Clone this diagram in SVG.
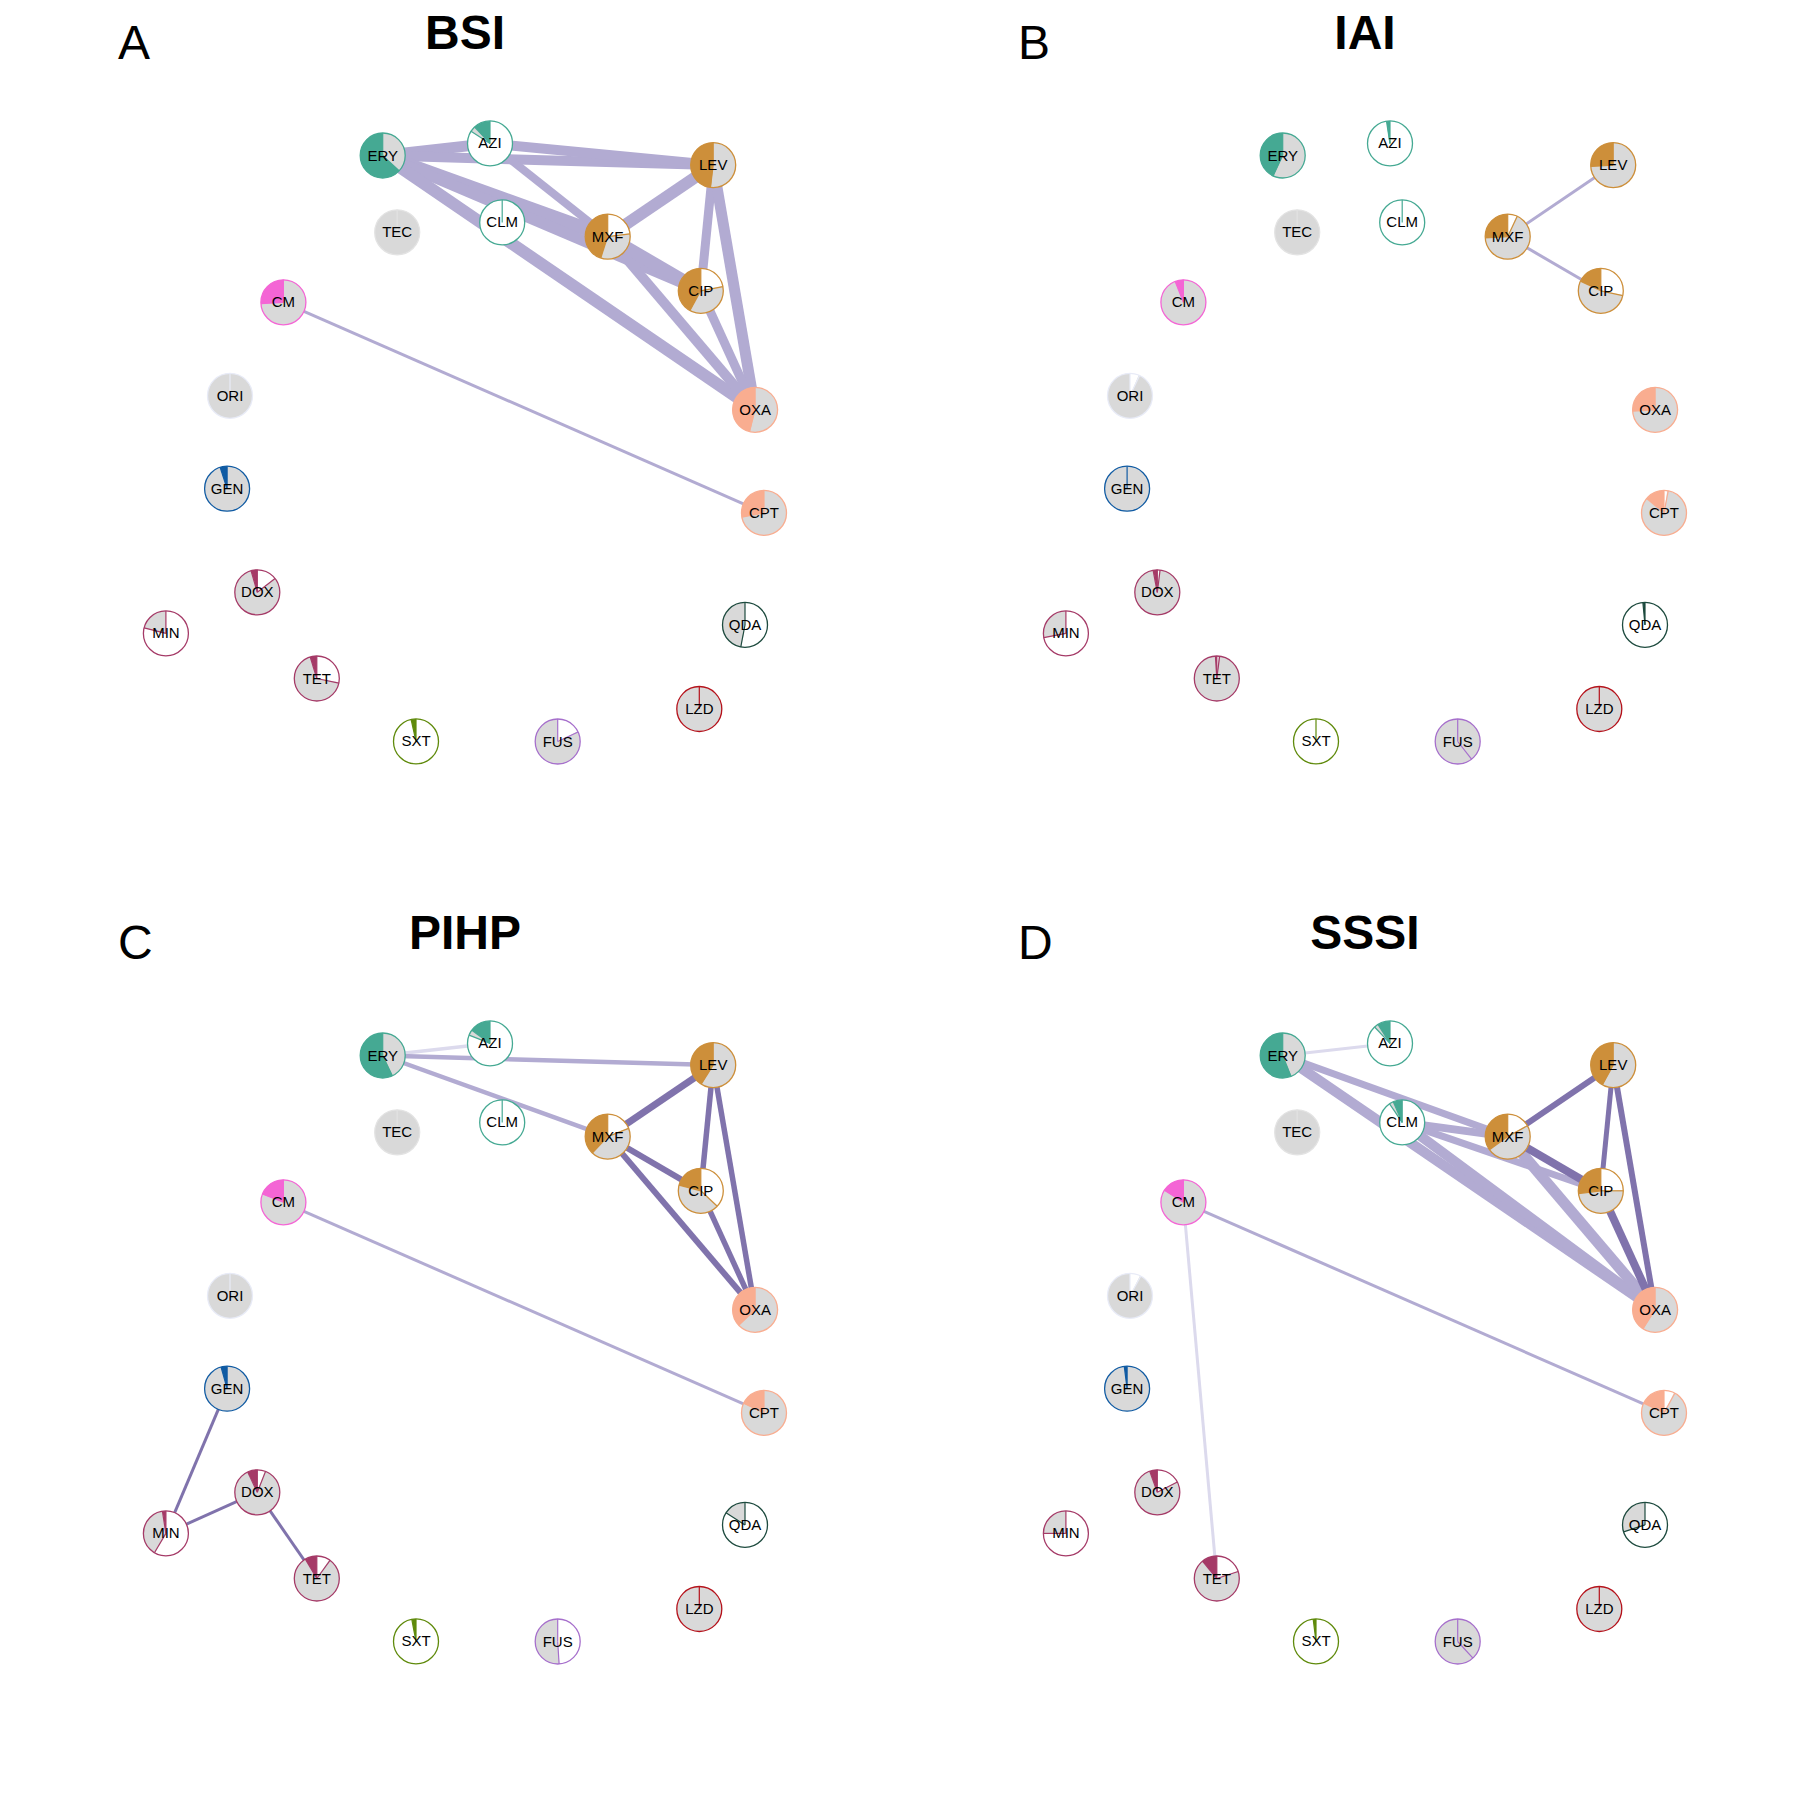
<svg xmlns="http://www.w3.org/2000/svg" width="1800" height="1800" viewBox="0 0 1800 1800">
<style>
.ttl{font-family:"Liberation Sans",Arial,sans-serif;font-size:48px;font-weight:bold;text-anchor:middle;fill:#000}
.lbl{font-family:"Liberation Sans",Arial,sans-serif;font-size:48px;fill:#000}
.n text{font-family:"Liberation Sans",Arial,sans-serif;font-size:15px;text-anchor:middle;fill:#000}
.bg{fill:#d9d9d9}.bw{fill:#fff}
.s{fill:none;stroke-width:22.5}
.gy{stroke:#d9d9d9}
.fr{fill:none;stroke-width:1.3}
.rl{fill:none;stroke-width:1.2}
.teal .cw,.teal .fr,.teal .rl{stroke:#45a993}
.orng .cw,.orng .fr,.orng .rl{stroke:#cd8f3a}
.pink .cw,.pink .fr,.pink .rl{stroke:#f465d5}
.salm .cw,.salm .fr,.salm .rl{stroke:#f9ad90}
.blue .cw,.blue .fr,.blue .rl{stroke:#105ba3}
.berry .cw,.berry .fr,.berry .rl{stroke:#a53a67}
.olive .cw,.olive .fr,.olive .rl{stroke:#5f8a0b}
.viol .cw,.viol .fr,.viol .rl{stroke:#a66fcc}
.dkgr .cw,.dkgr .fr,.dkgr .rl{stroke:#1d4a3e}
.red .cw,.red .fr,.red .rl{stroke:#b5121b}
.tec .fr,.tec .rl{stroke:#e3e3e3}
.ori .fr,.ori .rl{stroke:#e8ebf7}
.e line{fill:none;stroke-linecap:butt}
.lv{stroke:#b2abd2}.dk{stroke:#8073ac}.vl{stroke:#dcdaed}
</style>
<rect width="1800" height="1800" fill="#fff"/>

<g id="titles">
<text class="lbl" x="118" y="59">A</text>
<text class="ttl" x="465" y="49">BSI</text>
<text class="lbl" x="1018" y="59">B</text>
<text class="ttl" x="1365" y="49">IAI</text>
<text class="lbl" x="118" y="959">C</text>
<text class="ttl" x="465" y="949">PIHP</text>
<text class="lbl" x="1018" y="959">D</text>
<text class="ttl" x="1365" y="949">SSSI</text>
</g>

<g id="connectors" class="e">
<g id="edges-A">
<line class="lv" stroke-width="11" x1="382.7" y1="155.5" x2="490" y2="143.4"/>
<line class="lv" stroke-width="10" x1="382.7" y1="155.5" x2="713.2" y2="165.1"/>
<line class="lv" stroke-width="10" x1="490" y1="143.4" x2="713.2" y2="165.1"/>
<line class="lv" stroke-width="8" x1="490" y1="143.4" x2="607.7" y2="236.6"/>
<line class="lv" stroke-width="14" x1="382.7" y1="155.5" x2="607.7" y2="236.6"/>
<line class="lv" stroke-width="11" x1="382.7" y1="155.5" x2="700.8" y2="290.8"/>
<line class="lv" stroke-width="12" x1="382.7" y1="155.5" x2="755.1" y2="409.8"/>
<line class="lv" stroke-width="12" x1="607.7" y1="236.6" x2="713.2" y2="165.1"/>
<line class="lv" stroke-width="13" x1="607.7" y1="236.6" x2="700.8" y2="290.8"/>
<line class="lv" stroke-width="10" x1="607.7" y1="236.6" x2="755.1" y2="409.8"/>
<line class="lv" stroke-width="9" x1="713.2" y1="165.1" x2="700.8" y2="290.8"/>
<line class="lv" stroke-width="11" x1="713.2" y1="165.1" x2="755.1" y2="409.8"/>
<line class="lv" stroke-width="9" x1="700.8" y1="290.8" x2="755.1" y2="409.8"/>
<line class="lv" stroke-width="3" x1="283.4" y1="302.3" x2="764" y2="512.9"/>
</g>
<g id="edges-B" transform="translate(900 0)">
<line class="lv" stroke-width="3" x1="607.7" y1="236.6" x2="713.2" y2="165.1"/>
<line class="lv" stroke-width="3" x1="607.7" y1="236.6" x2="700.8" y2="290.8"/>
</g>
<g id="edges-C" transform="translate(0 900)">
<line class="vl" stroke-width="3.5" x1="382.7" y1="155.5" x2="490" y2="143.4"/>
<line class="lv" stroke-width="4.5" x1="382.7" y1="155.5" x2="713.2" y2="165.1"/>
<line class="lv" stroke-width="4.5" x1="382.7" y1="155.5" x2="607.7" y2="236.6"/>
<line class="lv" stroke-width="3" x1="283.4" y1="302.3" x2="764" y2="512.9"/>
<line class="dk" stroke-width="7" x1="607.7" y1="236.6" x2="713.2" y2="165.1"/>
<line class="dk" stroke-width="6" x1="607.7" y1="236.6" x2="700.8" y2="290.8"/>
<line class="dk" stroke-width="6" x1="607.7" y1="236.6" x2="755.1" y2="409.8"/>
<line class="dk" stroke-width="5.5" x1="713.2" y1="165.1" x2="700.8" y2="290.8"/>
<line class="dk" stroke-width="5.5" x1="713.2" y1="165.1" x2="755.1" y2="409.8"/>
<line class="dk" stroke-width="5.5" x1="700.8" y1="290.8" x2="755.1" y2="409.8"/>
<line class="dk" stroke-width="3" x1="227.1" y1="488.7" x2="165.9" y2="633.4"/>
<line class="dk" stroke-width="3" x1="165.9" y1="633.4" x2="257.3" y2="592.3"/>
<line class="dk" stroke-width="3" x1="257.3" y1="592.3" x2="316.8" y2="678.5"/>
</g>
<g id="edges-D" transform="translate(900 900)">
<line class="vl" stroke-width="3" x1="382.7" y1="155.5" x2="490" y2="143.4"/>
<line class="vl" stroke-width="3" x1="283.4" y1="302.3" x2="316.8" y2="678.5"/>
<line class="lv" stroke-width="7" x1="382.7" y1="155.5" x2="607.7" y2="236.6"/>
<line class="lv" stroke-width="10" x1="382.7" y1="155.5" x2="755.1" y2="409.8"/>
<line class="lv" stroke-width="8" x1="502.2" y1="222.4" x2="607.7" y2="236.6"/>
<line class="lv" stroke-width="7" x1="502.2" y1="222.4" x2="700.8" y2="290.8"/>
<line class="lv" stroke-width="10" x1="502.2" y1="222.4" x2="755.1" y2="409.8"/>
<line class="lv" stroke-width="11" x1="607.7" y1="236.6" x2="755.1" y2="409.8"/>
<line class="lv" stroke-width="3" x1="283.4" y1="302.3" x2="764" y2="512.9"/>
<line class="dk" stroke-width="6" x1="607.7" y1="236.6" x2="713.2" y2="165.1"/>
<line class="dk" stroke-width="8" x1="607.7" y1="236.6" x2="700.8" y2="290.8"/>
<line class="dk" stroke-width="5" x1="713.2" y1="165.1" x2="700.8" y2="290.8"/>
<line class="dk" stroke-width="6" x1="713.2" y1="165.1" x2="755.1" y2="409.8"/>
<line class="dk" stroke-width="8" x1="700.8" y1="290.8" x2="755.1" y2="409.8"/>
</g>
</g>

<g id="panel-A">
<g id="A-ERY" class="n teal" transform="translate(382.7 155.5)"><circle class="bg" r="22.5"/><g transform="scale(-1 1) rotate(-90)"><circle class="s cw" r="11.25" stroke-dasharray="44.53 100"/></g><path class="rl" d="M0 0V-22.5"/><path class="rl" d="M0 0V-22.5" transform="rotate(-226.8)"/><circle class="fr" r="22.5"/><text y="5">ERY</text></g>
<g id="A-AZI" class="n teal" transform="translate(490 143.4)"><circle class="bw" r="22.5"/><g transform="scale(-1 1) rotate(-90)"><circle class="s cw" r="11.25" stroke-dasharray="8.48 100"/><circle class="s gy" r="11.25" stroke-dasharray="0 8.48 2.83 100"/></g><path class="rl" d="M0 0V-22.5"/><path class="rl" d="M0 0V-22.5" transform="rotate(-43.2)"/><path class="rl" d="M0 0V-22.5" transform="rotate(-57.6)"/><circle class="fr" r="22.5"/><text y="5">AZI</text></g>
<g id="A-LEV" class="n orng" transform="translate(713.2 165.1)"><circle class="bg" r="22.5"/><g transform="scale(-1 1) rotate(-90)"><circle class="s cw" r="11.25" stroke-dasharray="33.93 100"/></g><path class="rl" d="M0 0V-22.5"/><path class="rl" d="M0 0V-22.5" transform="rotate(-172.8)"/><circle class="fr" r="22.5"/><text y="5">LEV</text></g>
<g id="A-TEC" class="n tec" transform="translate(397.2 232.3)"><circle class="bg" r="22.5"/><path class="rl" d="M0 0V-22.5"/><circle class="fr" r="22.5"/><text y="5">TEC</text></g>
<g id="A-CLM" class="n teal" transform="translate(502.2 222.4)"><circle class="bw" r="22.5"/><path class="rl" d="M0 0V-22.5"/><circle class="fr" r="22.5"/><text y="5">CLM</text></g>
<g id="A-MXF" class="n orng" transform="translate(607.7 236.6)"><circle class="bw" r="22.5"/><g transform="scale(-1 1) rotate(-90)"><circle class="s cw" r="11.25" stroke-dasharray="31.81 100"/><circle class="s gy" r="11.25" stroke-dasharray="0 31.81 22.62 100"/></g><path class="rl" d="M0 0V-22.5"/><path class="rl" d="M0 0V-22.5" transform="rotate(-162)"/><path class="rl" d="M0 0V-22.5" transform="rotate(-277.2)"/><circle class="fr" r="22.5"/><text y="5">MXF</text></g>
<g id="A-CIP" class="n orng" transform="translate(700.8 290.8)"><circle class="bw" r="22.5"/><g transform="scale(-1 1) rotate(-90)"><circle class="s cw" r="11.25" stroke-dasharray="29.69 100"/><circle class="s gy" r="11.25" stroke-dasharray="0 29.69 25.45 100"/></g><path class="rl" d="M0 0V-22.5"/><path class="rl" d="M0 0V-22.5" transform="rotate(-151.2)"/><path class="rl" d="M0 0V-22.5" transform="rotate(-280.8)"/><circle class="fr" r="22.5"/><text y="5">CIP</text></g>
<g id="A-CM" class="n pink" transform="translate(283.4 302.3)"><circle class="bg" r="22.5"/><g transform="scale(-1 1) rotate(-90)"><circle class="s cw" r="11.25" stroke-dasharray="18.38 100"/></g><path class="rl" d="M0 0V-22.5"/><path class="rl" d="M0 0V-22.5" transform="rotate(-93.6)"/><circle class="fr" r="22.5"/><text y="5">CM</text></g>
<g id="A-ORI" class="n ori" transform="translate(230 395.8)"><circle class="bg" r="22.5"/><path class="rl" d="M0 0V-22.5"/><circle class="fr" r="22.5"/><text y="5">ORI</text></g>
<g id="A-OXA" class="n salm" transform="translate(755.1 409.8)"><circle class="bg" r="22.5"/><g transform="scale(-1 1) rotate(-90)"><circle class="s cw" r="11.25" stroke-dasharray="32.52 100"/></g><path class="rl" d="M0 0V-22.5"/><path class="rl" d="M0 0V-22.5" transform="rotate(-165.6)"/><circle class="fr" r="22.5"/><text y="5">OXA</text></g>
<g id="A-GEN" class="n blue" transform="translate(227.1 488.7)"><circle class="bg" r="22.5"/><g transform="scale(-1 1) rotate(-90)"><circle class="s cw" r="11.25" stroke-dasharray="3.53 100"/></g><path class="rl" d="M0 0V-22.5"/><path class="rl" d="M0 0V-22.5" transform="rotate(-18)"/><circle class="fr" r="22.5"/><text y="5">GEN</text></g>
<g id="A-CPT" class="n salm" transform="translate(764 512.9)"><circle class="bg" r="22.5"/><g transform="scale(-1 1) rotate(-90)"><circle class="s cw" r="11.25" stroke-dasharray="19.79 100"/></g><path class="rl" d="M0 0V-22.5"/><path class="rl" d="M0 0V-22.5" transform="rotate(-100.8)"/><circle class="fr" r="22.5"/><text y="5">CPT</text></g>
<g id="A-DOX" class="n berry" transform="translate(257.3 592.3)"><circle class="bw" r="22.5"/><g transform="scale(-1 1) rotate(-90)"><circle class="s cw" r="11.25" stroke-dasharray="3.18 100"/><circle class="s gy" r="11.25" stroke-dasharray="0 3.18 57.26 100"/></g><path class="rl" d="M0 0V-22.5"/><path class="rl" d="M0 0V-22.5" transform="rotate(-16.2)"/><path class="rl" d="M0 0V-22.5" transform="rotate(-307.8)"/><circle class="fr" r="22.5"/><text y="5">DOX</text></g>
<g id="A-MIN" class="n berry" transform="translate(165.9 633.4)"><circle class="bw" r="22.5"/><g transform="scale(-1 1) rotate(-90)"><circle class="s gy" r="11.25" stroke-dasharray="14.84 100"/></g><path class="rl" d="M0 0V-22.5"/><path class="rl" d="M0 0V-22.5" transform="rotate(-75.6)"/><circle class="fr" r="22.5"/><text y="5">MIN</text></g>
<g id="A-QDA" class="n dkgr" transform="translate(745 624.9)"><circle class="bw" r="22.5"/><g transform="scale(-1 1) rotate(-90)"><circle class="s gy" r="11.25" stroke-dasharray="33.22 100"/></g><path class="rl" d="M0 0V-22.5"/><path class="rl" d="M0 0V-22.5" transform="rotate(-169.2)"/><circle class="fr" r="22.5"/><text y="5">QDA</text></g>
<g id="A-TET" class="n berry" transform="translate(316.8 678.5)"><circle class="bw" r="22.5"/><g transform="scale(-1 1) rotate(-90)"><circle class="s cw" r="11.25" stroke-dasharray="3.32 100"/><circle class="s gy" r="11.25" stroke-dasharray="0 3.32 47.36 100"/></g><path class="rl" d="M0 0V-22.5"/><path class="rl" d="M0 0V-22.5" transform="rotate(-16.9)"/><path class="rl" d="M0 0V-22.5" transform="rotate(-258.1)"/><circle class="fr" r="22.5"/><text y="5">TET</text></g>
<g id="A-LZD" class="n red" transform="translate(699.3 709)"><circle class="bg" r="22.5"/><path class="rl" d="M0 0V-22.5"/><circle class="fr" r="22.5"/><text y="5">LZD</text></g>
<g id="A-SXT" class="n olive" transform="translate(416 741.4)"><circle class="bw" r="22.5"/><g transform="scale(-1 1) rotate(-90)"><circle class="s cw" r="11.25" stroke-dasharray="2.47 100"/></g><path class="rl" d="M0 0V-22.5"/><path class="rl" d="M0 0V-22.5" transform="rotate(-12.6)"/><circle class="fr" r="22.5"/><text y="5">SXT</text></g>
<g id="A-FUS" class="n viol" transform="translate(557.7 741.5)"><circle class="bw" r="22.5"/><g transform="scale(-1 1) rotate(-90)"><circle class="s gy" r="11.25" stroke-dasharray="57.96 100"/></g><path class="rl" d="M0 0V-22.5"/><path class="rl" d="M0 0V-22.5" transform="rotate(-295.2)"/><circle class="fr" r="22.5"/><text y="5">FUS</text></g>
</g>

<g id="panel-B" transform="translate(900 0)">
<g id="B-ERY" class="n teal" transform="translate(382.7 155.5)"><circle class="bg" r="22.5"/><g transform="scale(-1 1) rotate(-90)"><circle class="s cw" r="11.25" stroke-dasharray="30.40 100"/></g><path class="rl" d="M0 0V-22.5"/><path class="rl" d="M0 0V-22.5" transform="rotate(-154.8)"/><circle class="fr" r="22.5"/><text y="5">ERY</text></g>
<g id="B-AZI" class="n teal" transform="translate(490 143.4)"><circle class="bw" r="22.5"/><g transform="scale(-1 1) rotate(-90)"><circle class="s cw" r="11.25" stroke-dasharray="1.41 100"/><circle class="s gy" r="11.25" stroke-dasharray="0 1.41 0.35 100"/></g><path class="rl" d="M0 0V-22.5"/><path class="rl" d="M0 0V-22.5" transform="rotate(-7.2)"/><path class="rl" d="M0 0V-22.5" transform="rotate(-9)"/><circle class="fr" r="22.5"/><text y="5">AZI</text></g>
<g id="B-LEV" class="n orng" transform="translate(713.2 165.1)"><circle class="bg" r="22.5"/><g transform="scale(-1 1) rotate(-90)"><circle class="s cw" r="11.25" stroke-dasharray="18.38 100"/></g><path class="rl" d="M0 0V-22.5"/><path class="rl" d="M0 0V-22.5" transform="rotate(-93.6)"/><circle class="fr" r="22.5"/><text y="5">LEV</text></g>
<g id="B-TEC" class="n tec" transform="translate(397.2 232.3)"><circle class="bg" r="22.5"/><path class="rl" d="M0 0V-22.5"/><circle class="fr" r="22.5"/><text y="5">TEC</text></g>
<g id="B-CLM" class="n teal" transform="translate(502.2 222.4)"><circle class="bw" r="22.5"/><path class="rl" d="M0 0V-22.5"/><circle class="fr" r="22.5"/><text y="5">CLM</text></g>
<g id="B-MXF" class="n orng" transform="translate(607.7 236.6)"><circle class="bw" r="22.5"/><g transform="scale(-1 1) rotate(-90)"><circle class="s cw" r="11.25" stroke-dasharray="18.38 100"/><circle class="s gy" r="11.25" stroke-dasharray="0 18.38 47.36 100"/></g><path class="rl" d="M0 0V-22.5"/><path class="rl" d="M0 0V-22.5" transform="rotate(-93.6)"/><path class="rl" d="M0 0V-22.5" transform="rotate(-334.8)"/><circle class="fr" r="22.5"/><text y="5">MXF</text></g>
<g id="B-CIP" class="n orng" transform="translate(700.8 290.8)"><circle class="bw" r="22.5"/><g transform="scale(-1 1) rotate(-90)"><circle class="s cw" r="11.25" stroke-dasharray="12.72 100"/><circle class="s gy" r="11.25" stroke-dasharray="0 12.72 37.82 100"/></g><path class="rl" d="M0 0V-22.5"/><path class="rl" d="M0 0V-22.5" transform="rotate(-64.8)"/><path class="rl" d="M0 0V-22.5" transform="rotate(-257.4)"/><circle class="fr" r="22.5"/><text y="5">CIP</text></g>
<g id="B-CM" class="n pink" transform="translate(283.4 302.3)"><circle class="bg" r="22.5"/><g transform="scale(-1 1) rotate(-90)"><circle class="s cw" r="11.25" stroke-dasharray="4.24 100"/></g><path class="rl" d="M0 0V-22.5"/><path class="rl" d="M0 0V-22.5" transform="rotate(-21.6)"/><circle class="fr" r="22.5"/><text y="5">CM</text></g>
<g id="B-ORI" class="n ori" transform="translate(230 395.8)"><circle class="bw" r="22.5"/><g transform="scale(-1 1) rotate(-90)"><circle class="s gy" r="11.25" stroke-dasharray="65.74 100"/></g><path class="rl" d="M0 0V-22.5"/><path class="rl" d="M0 0V-22.5" transform="rotate(-334.8)"/><circle class="fr" r="22.5"/><text y="5">ORI</text></g>
<g id="B-OXA" class="n salm" transform="translate(755.1 409.8)"><circle class="bg" r="22.5"/><g transform="scale(-1 1) rotate(-90)"><circle class="s cw" r="11.25" stroke-dasharray="18.38 100"/></g><path class="rl" d="M0 0V-22.5"/><path class="rl" d="M0 0V-22.5" transform="rotate(-93.6)"/><circle class="fr" r="22.5"/><text y="5">OXA</text></g>
<g id="B-GEN" class="n blue" transform="translate(227.1 488.7)"><circle class="bg" r="22.5"/><path class="rl" d="M0 0V-22.5"/><circle class="fr" r="22.5"/><text y="5">GEN</text></g>
<g id="B-CPT" class="n salm" transform="translate(764 512.9)"><circle class="bw" r="22.5"/><g transform="scale(-1 1) rotate(-90)"><circle class="s cw" r="11.25" stroke-dasharray="9.90 100"/><circle class="s gy" r="11.25" stroke-dasharray="0 9.90 58.67 100"/></g><path class="rl" d="M0 0V-22.5"/><path class="rl" d="M0 0V-22.5" transform="rotate(-50.4)"/><path class="rl" d="M0 0V-22.5" transform="rotate(-349.2)"/><circle class="fr" r="22.5"/><text y="5">CPT</text></g>
<g id="B-DOX" class="n berry" transform="translate(257.3 592.3)"><circle class="bw" r="22.5"/><g transform="scale(-1 1) rotate(-90)"><circle class="s cw" r="11.25" stroke-dasharray="2.12 100"/><circle class="s gy" r="11.25" stroke-dasharray="0 2.12 67.15 100"/></g><path class="rl" d="M0 0V-22.5"/><path class="rl" d="M0 0V-22.5" transform="rotate(-10.8)"/><path class="rl" d="M0 0V-22.5" transform="rotate(-352.8)"/><circle class="fr" r="22.5"/><text y="5">DOX</text></g>
<g id="B-MIN" class="n berry" transform="translate(165.9 633.4)"><circle class="bw" r="22.5"/><g transform="scale(-1 1) rotate(-90)"><circle class="s gy" r="11.25" stroke-dasharray="19.79 100"/></g><path class="rl" d="M0 0V-22.5"/><path class="rl" d="M0 0V-22.5" transform="rotate(-100.8)"/><circle class="fr" r="22.5"/><text y="5">MIN</text></g>
<g id="B-QDA" class="n dkgr" transform="translate(745 624.9)"><circle class="bw" r="22.5"/><g transform="scale(-1 1) rotate(-90)"><circle class="s cw" r="11.25" stroke-dasharray="1.06 100"/></g><path class="rl" d="M0 0V-22.5"/><path class="rl" d="M0 0V-22.5" transform="rotate(-5.4)"/><circle class="fr" r="22.5"/><text y="5">QDA</text></g>
<g id="B-TET" class="n berry" transform="translate(316.8 678.5)"><circle class="bw" r="22.5"/><g transform="scale(-1 1) rotate(-90)"><circle class="s cw" r="11.25" stroke-dasharray="0.71 100"/><circle class="s gy" r="11.25" stroke-dasharray="0 0.71 68.57 100"/></g><path class="rl" d="M0 0V-22.5"/><path class="rl" d="M0 0V-22.5" transform="rotate(-3.6)"/><path class="rl" d="M0 0V-22.5" transform="rotate(-352.8)"/><circle class="fr" r="22.5"/><text y="5">TET</text></g>
<g id="B-LZD" class="n red" transform="translate(699.3 709)"><circle class="bg" r="22.5"/><path class="rl" d="M0 0V-22.5"/><circle class="fr" r="22.5"/><text y="5">LZD</text></g>
<g id="B-SXT" class="n olive" transform="translate(416 741.4)"><circle class="bw" r="22.5"/><path class="rl" d="M0 0V-22.5"/><circle class="fr" r="22.5"/><text y="5">SXT</text></g>
<g id="B-FUS" class="n viol" transform="translate(557.7 741.5)"><circle class="bg" r="22.5"/><path class="rl" d="M0 0V-22.5"/><path class="rl" d="M0 0V-22.5" transform="rotate(-218)"/><circle class="fr" r="22.5"/><text y="5">FUS</text></g>
</g>

<g id="panel-C" transform="translate(0 900)">
<g id="C-ERY" class="n teal" transform="translate(382.7 155.5)"><circle class="bg" r="22.5"/><g transform="scale(-1 1) rotate(-90)"><circle class="s cw" r="11.25" stroke-dasharray="40.29 100"/></g><path class="rl" d="M0 0V-22.5"/><path class="rl" d="M0 0V-22.5" transform="rotate(-205.2)"/><circle class="fr" r="22.5"/><text y="5">ERY</text></g>
<g id="C-AZI" class="n teal" transform="translate(490 143.4)"><circle class="bw" r="22.5"/><g transform="scale(-1 1) rotate(-90)"><circle class="s cw" r="11.25" stroke-dasharray="10.60 100"/><circle class="s gy" r="11.25" stroke-dasharray="0 10.60 2.83 100"/></g><path class="rl" d="M0 0V-22.5"/><path class="rl" d="M0 0V-22.5" transform="rotate(-54)"/><path class="rl" d="M0 0V-22.5" transform="rotate(-68.4)"/><circle class="fr" r="22.5"/><text y="5">AZI</text></g>
<g id="C-LEV" class="n orng" transform="translate(713.2 165.1)"><circle class="bg" r="22.5"/><g transform="scale(-1 1) rotate(-90)"><circle class="s cw" r="11.25" stroke-dasharray="28.98 100"/></g><path class="rl" d="M0 0V-22.5"/><path class="rl" d="M0 0V-22.5" transform="rotate(-147.6)"/><circle class="fr" r="22.5"/><text y="5">LEV</text></g>
<g id="C-TEC" class="n tec" transform="translate(397.2 232.3)"><circle class="bg" r="22.5"/><path class="rl" d="M0 0V-22.5"/><circle class="fr" r="22.5"/><text y="5">TEC</text></g>
<g id="C-CLM" class="n teal" transform="translate(502.2 222.4)"><circle class="bw" r="22.5"/><path class="rl" d="M0 0V-22.5"/><circle class="fr" r="22.5"/><text y="5">CLM</text></g>
<g id="C-MXF" class="n orng" transform="translate(607.7 236.6)"><circle class="bw" r="22.5"/><g transform="scale(-1 1) rotate(-90)"><circle class="s cw" r="11.25" stroke-dasharray="26.86 100"/><circle class="s gy" r="11.25" stroke-dasharray="0 26.86 30.40 100"/></g><path class="rl" d="M0 0V-22.5"/><path class="rl" d="M0 0V-22.5" transform="rotate(-136.8)"/><path class="rl" d="M0 0V-22.5" transform="rotate(-291.6)"/><circle class="fr" r="22.5"/><text y="5">MXF</text></g>
<g id="C-CIP" class="n orng" transform="translate(700.8 290.8)"><circle class="bw" r="22.5"/><g transform="scale(-1 1) rotate(-90)"><circle class="s cw" r="11.25" stroke-dasharray="14.84 100"/><circle class="s gy" r="11.25" stroke-dasharray="0 14.84 29.69 100"/></g><path class="rl" d="M0 0V-22.5"/><path class="rl" d="M0 0V-22.5" transform="rotate(-75.6)"/><path class="rl" d="M0 0V-22.5" transform="rotate(-226.8)"/><circle class="fr" r="22.5"/><text y="5">CIP</text></g>
<g id="C-CM" class="n pink" transform="translate(283.4 302.3)"><circle class="bg" r="22.5"/><g transform="scale(-1 1) rotate(-90)"><circle class="s cw" r="11.25" stroke-dasharray="13.43 100"/></g><path class="rl" d="M0 0V-22.5"/><path class="rl" d="M0 0V-22.5" transform="rotate(-68.4)"/><circle class="fr" r="22.5"/><text y="5">CM</text></g>
<g id="C-ORI" class="n ori" transform="translate(230 395.8)"><circle class="bg" r="22.5"/><path class="rl" d="M0 0V-22.5"/><circle class="fr" r="22.5"/><text y="5">ORI</text></g>
<g id="C-OXA" class="n salm" transform="translate(755.1 409.8)"><circle class="bg" r="22.5"/><g transform="scale(-1 1) rotate(-90)"><circle class="s cw" r="11.25" stroke-dasharray="26.15 100"/></g><path class="rl" d="M0 0V-22.5"/><path class="rl" d="M0 0V-22.5" transform="rotate(-133.2)"/><circle class="fr" r="22.5"/><text y="5">OXA</text></g>
<g id="C-GEN" class="n blue" transform="translate(227.1 488.7)"><circle class="bg" r="22.5"/><g transform="scale(-1 1) rotate(-90)"><circle class="s cw" r="11.25" stroke-dasharray="3.04 100"/></g><path class="rl" d="M0 0V-22.5"/><path class="rl" d="M0 0V-22.5" transform="rotate(-15.5)"/><circle class="fr" r="22.5"/><text y="5">GEN</text></g>
<g id="C-CPT" class="n salm" transform="translate(764 512.9)"><circle class="bg" r="22.5"/><g transform="scale(-1 1) rotate(-90)"><circle class="s cw" r="11.25" stroke-dasharray="12.72 100"/></g><path class="rl" d="M0 0V-22.5"/><path class="rl" d="M0 0V-22.5" transform="rotate(-64.8)"/><circle class="fr" r="22.5"/><text y="5">CPT</text></g>
<g id="C-DOX" class="n berry" transform="translate(257.3 592.3)"><circle class="bw" r="22.5"/><g transform="scale(-1 1) rotate(-90)"><circle class="s cw" r="11.25" stroke-dasharray="4.95 100"/><circle class="s gy" r="11.25" stroke-dasharray="0 4.95 61.50 100"/></g><path class="rl" d="M0 0V-22.5"/><path class="rl" d="M0 0V-22.5" transform="rotate(-25.2)"/><path class="rl" d="M0 0V-22.5" transform="rotate(-338.4)"/><circle class="fr" r="22.5"/><text y="5">DOX</text></g>
<g id="C-MIN" class="n berry" transform="translate(165.9 633.4)"><circle class="bw" r="22.5"/><g transform="scale(-1 1) rotate(-90)"><circle class="s cw" r="11.25" stroke-dasharray="1.77 100"/><circle class="s gy" r="11.25" stroke-dasharray="0 1.77 27.57 100"/></g><path class="rl" d="M0 0V-22.5"/><path class="rl" d="M0 0V-22.5" transform="rotate(-9)"/><path class="rl" d="M0 0V-22.5" transform="rotate(-149.4)"/><circle class="fr" r="22.5"/><text y="5">MIN</text></g>
<g id="C-QDA" class="n dkgr" transform="translate(745 624.9)"><circle class="bw" r="22.5"/><g transform="scale(-1 1) rotate(-90)"><circle class="s gy" r="11.25" stroke-dasharray="11.31 100"/></g><path class="rl" d="M0 0V-22.5"/><path class="rl" d="M0 0V-22.5" transform="rotate(-57.6)"/><circle class="fr" r="22.5"/><text y="5">QDA</text></g>
<g id="C-TET" class="n berry" transform="translate(316.8 678.5)"><circle class="bw" r="22.5"/><g transform="scale(-1 1) rotate(-90)"><circle class="s cw" r="11.25" stroke-dasharray="6.01 100"/><circle class="s gy" r="11.25" stroke-dasharray="0 6.01 57.61 100"/></g><path class="rl" d="M0 0V-22.5"/><path class="rl" d="M0 0V-22.5" transform="rotate(-30.6)"/><path class="rl" d="M0 0V-22.5" transform="rotate(-324)"/><circle class="fr" r="22.5"/><text y="5">TET</text></g>
<g id="C-LZD" class="n red" transform="translate(699.3 709)"><circle class="bg" r="22.5"/><path class="rl" d="M0 0V-22.5"/><circle class="fr" r="22.5"/><text y="5">LZD</text></g>
<g id="C-SXT" class="n olive" transform="translate(416 741.4)"><circle class="bw" r="22.5"/><g transform="scale(-1 1) rotate(-90)"><circle class="s cw" r="11.25" stroke-dasharray="2.12 100"/></g><path class="rl" d="M0 0V-22.5"/><path class="rl" d="M0 0V-22.5" transform="rotate(-10.8)"/><circle class="fr" r="22.5"/><text y="5">SXT</text></g>
<g id="C-FUS" class="n viol" transform="translate(557.7 741.5)"><circle class="bw" r="22.5"/><g transform="scale(-1 1) rotate(-90)"><circle class="s gy" r="11.25" stroke-dasharray="36.05 100"/></g><path class="rl" d="M0 0V-22.5"/><path class="rl" d="M0 0V-22.5" transform="rotate(-183.6)"/><circle class="fr" r="22.5"/><text y="5">FUS</text></g>
</g>

<g id="panel-D" transform="translate(900 900)">
<g id="D-ERY" class="n teal" transform="translate(382.7 155.5)"><circle class="bg" r="22.5"/><g transform="scale(-1 1) rotate(-90)"><circle class="s cw" r="11.25" stroke-dasharray="39.58 100"/></g><path class="rl" d="M0 0V-22.5"/><path class="rl" d="M0 0V-22.5" transform="rotate(-201.6)"/><circle class="fr" r="22.5"/><text y="5">ERY</text></g>
<g id="D-AZI" class="n teal" transform="translate(490 143.4)"><circle class="bw" r="22.5"/><g transform="scale(-1 1) rotate(-90)"><circle class="s cw" r="11.25" stroke-dasharray="6.36 100"/><circle class="s gy" r="11.25" stroke-dasharray="0 6.36 2.12 100"/></g><path class="rl" d="M0 0V-22.5"/><path class="rl" d="M0 0V-22.5" transform="rotate(-32.4)"/><path class="rl" d="M0 0V-22.5" transform="rotate(-43.2)"/><circle class="fr" r="22.5"/><text y="5">AZI</text></g>
<g id="D-LEV" class="n orng" transform="translate(713.2 165.1)"><circle class="bg" r="22.5"/><g transform="scale(-1 1) rotate(-90)"><circle class="s cw" r="11.25" stroke-dasharray="29.69 100"/></g><path class="rl" d="M0 0V-22.5"/><path class="rl" d="M0 0V-22.5" transform="rotate(-151.2)"/><circle class="fr" r="22.5"/><text y="5">LEV</text></g>
<g id="D-TEC" class="n tec" transform="translate(397.2 232.3)"><circle class="bg" r="22.5"/><path class="rl" d="M0 0V-22.5"/><circle class="fr" r="22.5"/><text y="5">TEC</text></g>
<g id="D-CLM" class="n teal" transform="translate(502.2 222.4)"><circle class="bw" r="22.5"/><g transform="scale(-1 1) rotate(-90)"><circle class="s cw" r="11.25" stroke-dasharray="4.59 100"/><circle class="s gy" r="11.25" stroke-dasharray="0 4.59 2.12 100"/></g><path class="rl" d="M0 0V-22.5"/><path class="rl" d="M0 0V-22.5" transform="rotate(-23.4)"/><path class="rl" d="M0 0V-22.5" transform="rotate(-34.2)"/><circle class="fr" r="22.5"/><text y="5">CLM</text></g>
<g id="D-MXF" class="n orng" transform="translate(607.7 236.6)"><circle class="bw" r="22.5"/><g transform="scale(-1 1) rotate(-90)"><circle class="s cw" r="11.25" stroke-dasharray="24.74 100"/><circle class="s gy" r="11.25" stroke-dasharray="0 24.74 33.93 100"/></g><path class="rl" d="M0 0V-22.5"/><path class="rl" d="M0 0V-22.5" transform="rotate(-126)"/><path class="rl" d="M0 0V-22.5" transform="rotate(-298.8)"/><circle class="fr" r="22.5"/><text y="5">MXF</text></g>
<g id="D-CIP" class="n orng" transform="translate(700.8 290.8)"><circle class="bw" r="22.5"/><g transform="scale(-1 1) rotate(-90)"><circle class="s cw" r="11.25" stroke-dasharray="19.09 100"/><circle class="s gy" r="11.25" stroke-dasharray="0 19.09 33.93 100"/></g><path class="rl" d="M0 0V-22.5"/><path class="rl" d="M0 0V-22.5" transform="rotate(-97.2)"/><path class="rl" d="M0 0V-22.5" transform="rotate(-270)"/><circle class="fr" r="22.5"/><text y="5">CIP</text></g>
<g id="D-CM" class="n pink" transform="translate(283.4 302.3)"><circle class="bg" r="22.5"/><g transform="scale(-1 1) rotate(-90)"><circle class="s cw" r="11.25" stroke-dasharray="11.31 100"/></g><path class="rl" d="M0 0V-22.5"/><path class="rl" d="M0 0V-22.5" transform="rotate(-57.6)"/><circle class="fr" r="22.5"/><text y="5">CM</text></g>
<g id="D-ORI" class="n ori" transform="translate(230 395.8)"><circle class="bw" r="22.5"/><g transform="scale(-1 1) rotate(-90)"><circle class="s gy" r="11.25" stroke-dasharray="65.03 100"/></g><path class="rl" d="M0 0V-22.5"/><path class="rl" d="M0 0V-22.5" transform="rotate(-331.2)"/><circle class="fr" r="22.5"/><text y="5">ORI</text></g>
<g id="D-OXA" class="n salm" transform="translate(755.1 409.8)"><circle class="bg" r="22.5"/><g transform="scale(-1 1) rotate(-90)"><circle class="s cw" r="11.25" stroke-dasharray="28.98 100"/></g><path class="rl" d="M0 0V-22.5"/><path class="rl" d="M0 0V-22.5" transform="rotate(-147.6)"/><circle class="fr" r="22.5"/><text y="5">OXA</text></g>
<g id="D-GEN" class="n blue" transform="translate(227.1 488.7)"><circle class="bg" r="22.5"/><g transform="scale(-1 1) rotate(-90)"><circle class="s cw" r="11.25" stroke-dasharray="1.41 100"/></g><path class="rl" d="M0 0V-22.5"/><path class="rl" d="M0 0V-22.5" transform="rotate(-7.2)"/><circle class="fr" r="22.5"/><text y="5">GEN</text></g>
<g id="D-CPT" class="n salm" transform="translate(764 512.9)"><circle class="bw" r="22.5"/><g transform="scale(-1 1) rotate(-90)"><circle class="s cw" r="11.25" stroke-dasharray="12.72 100"/><circle class="s gy" r="11.25" stroke-dasharray="0 12.72 52.31 100"/></g><path class="rl" d="M0 0V-22.5"/><path class="rl" d="M0 0V-22.5" transform="rotate(-64.8)"/><path class="rl" d="M0 0V-22.5" transform="rotate(-331.2)"/><circle class="fr" r="22.5"/><text y="5">CPT</text></g>
<g id="D-DOX" class="n berry" transform="translate(257.3 592.3)"><circle class="bw" r="22.5"/><g transform="scale(-1 1) rotate(-90)"><circle class="s cw" r="11.25" stroke-dasharray="3.89 100"/><circle class="s gy" r="11.25" stroke-dasharray="0 3.89 54.43 100"/></g><path class="rl" d="M0 0V-22.5"/><path class="rl" d="M0 0V-22.5" transform="rotate(-19.8)"/><path class="rl" d="M0 0V-22.5" transform="rotate(-297)"/><circle class="fr" r="22.5"/><text y="5">DOX</text></g>
<g id="D-MIN" class="n berry" transform="translate(165.9 633.4)"><circle class="bw" r="22.5"/><g transform="scale(-1 1) rotate(-90)"><circle class="s gy" r="11.25" stroke-dasharray="17.67 100"/></g><path class="rl" d="M0 0V-22.5"/><path class="rl" d="M0 0V-22.5" transform="rotate(-90)"/><circle class="fr" r="22.5"/><text y="5">MIN</text></g>
<g id="D-QDA" class="n dkgr" transform="translate(745 624.9)"><circle class="bw" r="22.5"/><g transform="scale(-1 1) rotate(-90)"><circle class="s gy" r="11.25" stroke-dasharray="21.21 100"/></g><path class="rl" d="M0 0V-22.5"/><path class="rl" d="M0 0V-22.5" transform="rotate(-108)"/><circle class="fr" r="22.5"/><text y="5">QDA</text></g>
<g id="D-TET" class="n berry" transform="translate(316.8 678.5)"><circle class="bw" r="22.5"/><g transform="scale(-1 1) rotate(-90)"><circle class="s cw" r="11.25" stroke-dasharray="7.78 100"/><circle class="s gy" r="11.25" stroke-dasharray="0 7.78 48.77 100"/></g><path class="rl" d="M0 0V-22.5"/><path class="rl" d="M0 0V-22.5" transform="rotate(-39.6)"/><path class="rl" d="M0 0V-22.5" transform="rotate(-288)"/><circle class="fr" r="22.5"/><text y="5">TET</text></g>
<g id="D-LZD" class="n red" transform="translate(699.3 709)"><circle class="bg" r="22.5"/><path class="rl" d="M0 0V-22.5"/><circle class="fr" r="22.5"/><text y="5">LZD</text></g>
<g id="D-SXT" class="n olive" transform="translate(416 741.4)"><circle class="bw" r="22.5"/><g transform="scale(-1 1) rotate(-90)"><circle class="s cw" r="11.25" stroke-dasharray="1.41 100"/></g><path class="rl" d="M0 0V-22.5"/><path class="rl" d="M0 0V-22.5" transform="rotate(-7.2)"/><circle class="fr" r="22.5"/><text y="5">SXT</text></g>
<g id="D-FUS" class="n viol" transform="translate(557.7 741.5)"><circle class="bg" r="22.5"/><path class="rl" d="M0 0V-22.5"/><path class="rl" d="M0 0V-22.5" transform="rotate(-222.6)"/><circle class="fr" r="22.5"/><text y="5">FUS</text></g>
</g>
</svg>
